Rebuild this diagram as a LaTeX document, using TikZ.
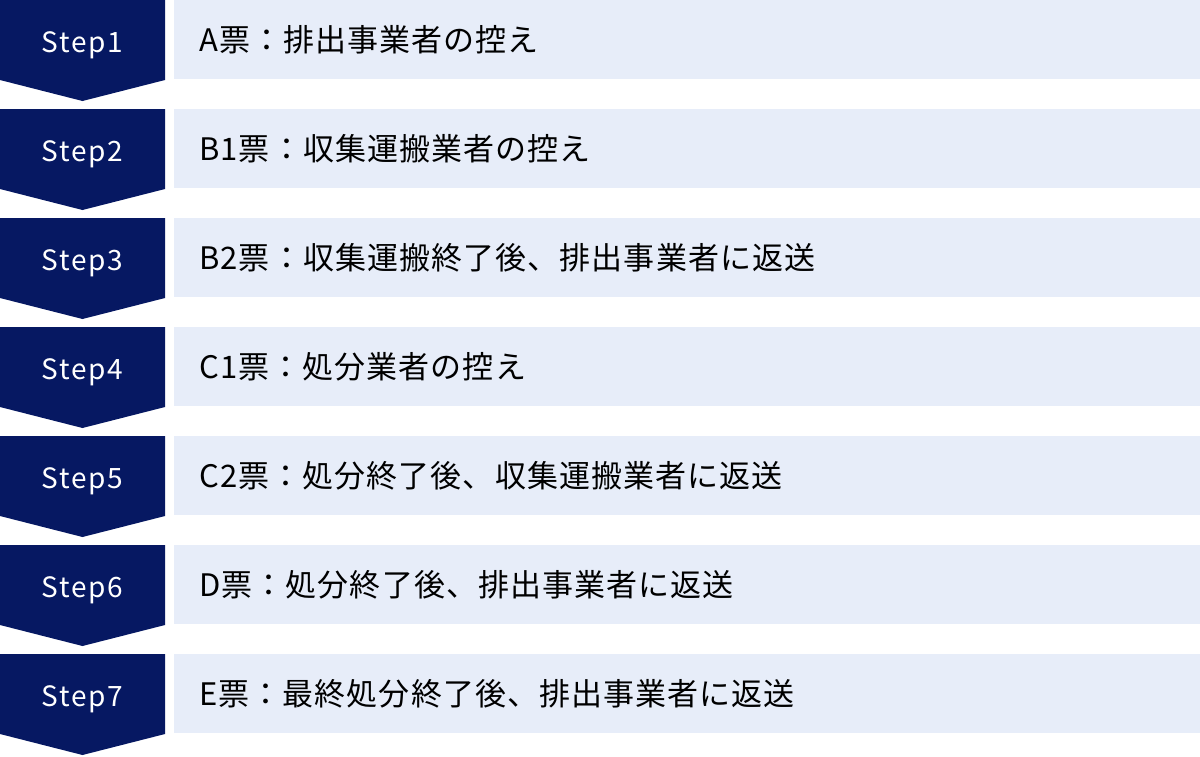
\documentclass[tikz,border=0pt]{standalone}
\usepackage{fontspec}
\setmainfont{Noto Sans CJK JP}
\newfontfamily\jpfont[LetterSpace=3.5]{Noto Sans CJK JP}
\newfontfamily\stepfont[LetterSpace=6]{Noto Sans CJK JP}
\definecolor{navy}{HTML}{061862}
\definecolor{pale}{HTML}{E7EDF9}
\tikzset{
  x=1pt, y=-1pt,
  chev/.style={fill=navy, draw=none},
  bar/.style={fill=pale, draw=none},
  steplabel/.style={text=white, font=\stepfont\fontsize{28}{28}\selectfont, anchor=base, inner sep=0pt},
  desc/.style={text=black, font=\jpfont\fontsize{31}{31}\selectfont, anchor=base west, inner sep=0pt},
}
\begin{document}
\begin{tikzpicture}
\useasboundingbox (0,0) rectangle (1200,756);
\foreach \i/\txt [count=\n from 0] in {1/A票：排出事業者の控え,
  2/B1票：収集運搬業者の控え,
  3/B2票：収集運搬終了後、排出事業者に返送,
  4/C1票：処分業者の控え,
  5/C2票：処分終了後、収集運搬業者に返送,
  6/D票：処分終了後、排出事業者に返送,
  7/E票：最終処分終了後、排出事業者に返送}{
  \pgfmathsetmacro{\t}{109*\n}
  \fill[chev] (0,\t) -- (165,\t) -- (165,\t+80) -- (82.5,\t+101) -- (0,\t+80) -- cycle;
  \fill[bar] (174,\t) rectangle (1200,\t+79);
  \node[steplabel] (step\i) at (82.5,\t+52) {Step\i};
  \node[desc] (desc\i) at (199,\t+51.5) {\txt};
}
\end{tikzpicture}
\end{document}
